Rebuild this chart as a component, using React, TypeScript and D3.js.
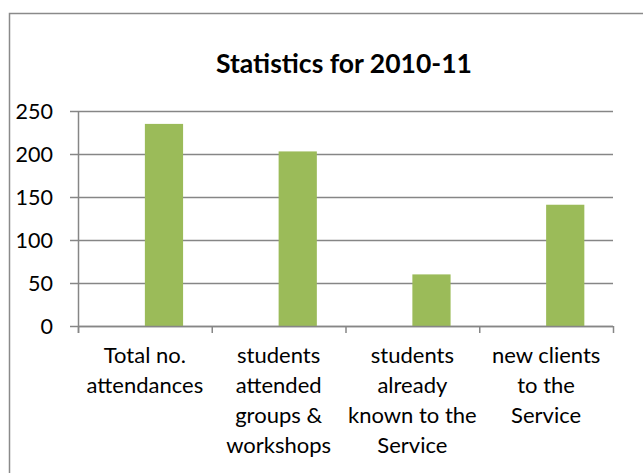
import React from "react";
import * as d3 from "d3";

const categories: string[][] = [
  ["Total no.", "attendances"],
  ["students", "attended", "groups &", "workshops"],
  ["students", "already", "known to the", "Service"],
  ["new clients", "to the", "Service"],
];
const categoryKeys = ["c1", "c2", "c3", "c4"];
const seriesNames = ["Series1", "Series2"];
const series1: (number | null)[] = [null, null, null, null];
const series2: number[] = [235, 203, 60, 141];
const yTicks = [0, 50, 100, 150, 200, 250];
const title = "Statistics for 2010-11";

const W = 643;
const H = 473;
const left = 78;
const right = 613;
const top = 111;
const bottom = 326;
const FONT = "Lato, 'Open Sans', sans-serif";
const GRID = "#868686";

export default function App() {
  const x0 = d3.scaleBand<string>().domain(categoryKeys).range([left, right]).paddingInner(0).paddingOuter(0);
  const x1 = d3
    .scaleBand<string>()
    .domain(seriesNames)
    .range([0, x0.bandwidth()])
    .paddingInner(0)
    .paddingOuter(0.75);
  const y = d3.scaleLinear().domain([0, 250]).range([bottom, top]);

  const allSeries = [series1, series2];
  const boundaries = [...categoryKeys.map((k) => x0(k) as number), right];

  return (
    <svg
      width={W}
      height={H}
      style={{ position: "absolute", left: 0, top: 0, background: "#fff" }}
      fontFamily={FONT}
    >
      <rect x={0} y={0} width={W} height={H} fill="#fff" />
      <rect x={9.5} y={13.5} width={W} height={H} fill="none" stroke="#8a8a8a" strokeWidth={1.5} />
      <text x={344} y={73} textAnchor="middle" fontWeight="bold" fontSize={26.5} fill="#000">
        {title}
      </text>
      {yTicks.map((t) => (
        <g key={t}>
          <line x1={left - 8} x2={right} y1={Math.round(y(t)) + 0.5} y2={Math.round(y(t)) + 0.5} stroke={GRID} strokeWidth={1.5} />
          <text x={53} y={y(t)} dy="0.35em" textAnchor="end" fontSize={21.5} fill="#000">
            {t}
          </text>
        </g>
      ))}
      <line x1={left + 0.5} x2={left + 0.5} y1={top} y2={bottom + 7} stroke={GRID} strokeWidth={1.5} />
      {boundaries.map((b, i) => (
        <line key={i} x1={b + 0.5} x2={b + 0.5} y1={bottom} y2={bottom + 7} stroke={GRID} strokeWidth={1.5} />
      ))}
      {allSeries.map((s, si) =>
        s.map((v, i) =>
          v == null ? null : (
            <rect
              key={`${si}-${i}`}
              x={(x0(categoryKeys[i]) as number) + (x1(seriesNames[si]) as number)}
              y={y(v)}
              width={x1.bandwidth()}
              height={bottom - y(v)}
              fill="#9BBB59"
            />
          )
        )
      )}
      <line x1={left} x2={right} y1={bottom + 0.5} y2={bottom + 0.5} stroke={GRID} strokeWidth={1.5} />
      {categories.map((lines, i) => (
        <text
          key={i}
          x={(x0(categoryKeys[i]) as number) + x0.bandwidth() / 2}
          y={363}
          textAnchor="middle"
          fontSize={22}
          fill="#000"
        >
          {lines.map((l, j) => (
            <tspan key={j} x={(x0(categoryKeys[i]) as number) + x0.bandwidth() / 2} y={363 + j * 30}>
              {l}
            </tspan>
          ))}
        </text>
      ))}
    </svg>
  );
}
